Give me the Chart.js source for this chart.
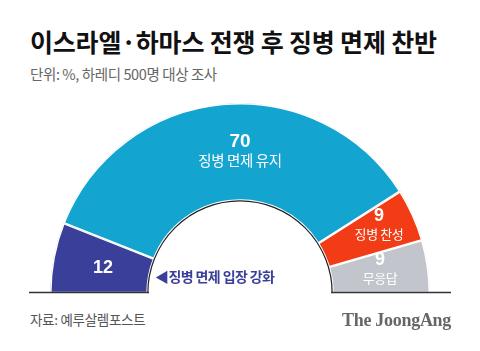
<!DOCTYPE html>
<html><head><meta charset="utf-8">
<script src="https://cdn.jsdelivr.net/npm/chart.js@4/dist/chart.umd.min.js"></script>
<style>
html,body{margin:0;padding:0;background:#fff;width:480px;height:351px;overflow:hidden;font-family:"Noto Sans CJK KR","Noto Sans",sans-serif;}
.abs{position:absolute;white-space:nowrap;}
#title{left:30px;top:24px;font-size:25px;font-weight:700;color:#111;letter-spacing:-0.2px;line-height:34px;}
#sub{left:30px;top:64px;font-size:14.5px;color:#666;letter-spacing:-0.4px;line-height:20px;}
#src{left:30px;top:310px;font-size:13.5px;color:#555;letter-spacing:-0.3px;line-height:18px;}
#brand{right:29px;top:309px;font-family:"Liberation Serif","DejaVu Serif",serif;font-weight:700;font-size:18px;color:#666;letter-spacing:-0.3px;line-height:22px;}
#wrap{position:absolute;left:50px;top:103px;width:380px;height:190px;}
.lbl{position:absolute;transform:translate(-50%,-50%);text-align:center;color:#fff;white-space:nowrap;}
.num{font-family:"Liberation Sans","Noto Sans CJK KR",sans-serif;font-weight:700;font-size:18px;line-height:20px;}
.txt{font-size:13px;line-height:18px;letter-spacing:-0.4px;}
#note{position:absolute;left:155px;top:266px;font-size:14px;font-weight:700;color:#3a3f9a;letter-spacing:-0.6px;line-height:20px;white-space:nowrap;}
</style></head>
<body>
<div id="title" class="abs"></div>
<div id="sub" class="abs"></div>
<div id="wrap"><canvas id="c" width="380" height="190"></canvas></div>
<div id="labels"></div>
<div id="note"></div>
<div id="src" class="abs"></div>
<div id="brand" class="abs"></div>
<script>
const titleText = "이스라엘·하마스 전쟁 후 징병 면제 찬반";
const subtitleText = "단위: %, 하레디 500명 대상 조사";
const sourceText = "자료: 예루살렘포스트";
const brandText = "The JoongAng";
const categories = ["징병 면제 입장 강화", "징병 면제 유지", "징병 찬성", "무응답"];
const values = [12, 70, 9, 9];
const colors = ["#3a3f9a", "#13a4d0", "#f23c16", "#c2c6cc"];
// label anchor (center of value+text group) in page pixels
const labelPos = [[103, 267], [240, 150], [379, 224], [380, 268]];
const showCatInside = [false, true, true, true];

document.getElementById('title').textContent = titleText;
document.getElementById('sub').textContent = subtitleText;
document.getElementById('src').textContent = sourceText;
document.getElementById('brand').textContent = brandText;
document.getElementById('note').textContent = "◀" + categories[0];

const labels = document.getElementById('labels');
values.forEach((v, i) => {
  const d = document.createElement('div');
  d.className = 'lbl';
  d.style.left = labelPos[i][0] + 'px';
  d.style.top = labelPos[i][1] + 'px';
  let html = '<div class="num"' + (i === 1 ? ' style="font-size:19px"' : '') + '>' + v + '</div>';
  if (showCatInside[i]) html += '<div class="txt"' + (i === 1 ? ' style="font-size:14.5px"' : '') + '>' + categories[i] + '</div>';
  d.innerHTML = html;
  labels.appendChild(d);
});

const decor = {
  id: 'decor',
  afterDatasetsDraw(chart) {
    const arcs = chart.getDatasetMeta(0).data;
    if (!arcs.length) return;
    const a = arcs[0];
    const ctx = chart.ctx;
    ctx.save();
    ctx.strokeStyle = '#222';
    ctx.lineWidth = 1.2;
    ctx.beginPath();
    ctx.arc(a.x, a.y, a.innerRadius, Math.PI, 2 * Math.PI);
    ctx.stroke();
    ctx.restore();
  }
};

new Chart(document.getElementById('c'), {
  type: 'doughnut',
  data: { labels: categories, datasets: [{ data: values, backgroundColor: colors, borderColor: '#fff', borderWidth: 1.2, borderAlign: 'inner' }] },
  options: {
    responsive: false, animation: false,
    rotation: -90, circumference: 180, cutout: '48.5%',
    layout: { padding: 0 },
    plugins: { legend: { display: false }, tooltip: { enabled: false } }
  },
  plugins: [decor]
});
</script>
<svg style="position:absolute;left:0;top:0;pointer-events:none" width="480" height="351">
  <line x1="29" y1="292.5" x2="149" y2="292.5" stroke="#333" stroke-width="1.3"/>
  <line x1="331" y1="292.5" x2="451" y2="292.5" stroke="#333" stroke-width="1.3"/>
</svg>
</body></html>
